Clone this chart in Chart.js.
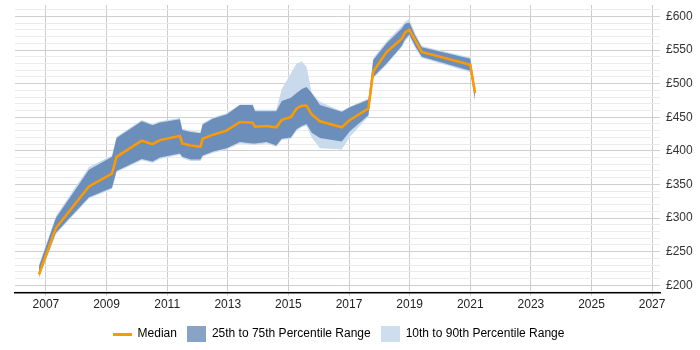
<!DOCTYPE html>
<html>
<head>
<meta charset="utf-8">
<script src="https://cdn.jsdelivr.net/npm/chart.js@4.4.1/dist/chart.umd.min.js"></script>
<style>
  html, body { margin: 0; padding: 0; background: #fff; }
  #wrap { width: 700px; height: 350px; }
</style>
</head>
<body>
<div id="wrap"><canvas id="c" width="700" height="350"></canvas></div>
<script>
// ---- data ----
const years = [2006.77, 2007.33, 2008.42, 2009.18, 2009.33, 2010.16, 2010.52, 2010.76, 2011.42, 2011.5,
  2011.78, 2012.1, 2012.17, 2012.52, 2012.96, 2013.4, 2013.82, 2013.9, 2014.28, 2014.6,
  2014.78, 2015.08, 2015.27, 2015.44, 2015.6, 2015.77, 2016.04, 2016.76, 2017.03, 2017.64,
  2017.8, 2018.24, 2018.74, 2018.85, 2018.99, 2019.18, 2019.4, 2021.0, 2021.16];
const median = [216, 285, 347, 366, 391, 415, 410, 416, 422, 411,
  408, 406, 418, 424, 430, 443, 442, 436, 437, 435,
  446, 450, 463, 467, 467, 454, 444, 435, 446, 463,
  518, 547, 567, 576, 580, 565, 547, 528, 486];
const p25 = [213, 278, 331, 345, 370, 388, 384, 390, 396, 391,
  387, 387, 393, 399, 404, 413, 411, 411, 413, 408,
  418, 420, 432, 437, 440, 427, 419, 414, 429, 453,
  510, 530, 556, 566, 573, 556, 540, 519, 476];
const p75 = [228, 300, 372, 391, 419, 444, 438, 442, 447, 431,
  428, 426, 439, 448, 454, 468, 468, 459, 459, 459,
  474, 479, 486, 492, 495, 486, 468, 458, 465, 476,
  535, 560, 582, 589, 591, 572, 554, 537, 492];
const p10 = [210, 276, 329, 343, 368, 386, 382, 388, 394, 389,
  385, 385, 391, 397, 402, 411, 409, 409, 411, 406,
  416, 418, 430, 435, 437, 420, 404, 402, 421, 451,
  508, 528, 554, 563, 570, 553, 538, 517, 472];
const p90 = [230, 303, 376, 393, 421, 446, 440, 444, 449, 433,
  430, 428, 441, 450, 456, 469, 469, 461, 461, 461,
  492, 515, 530, 533, 525, 486, 473, 459, 466, 478,
  538, 563, 586, 592, 596, 575, 556, 539, 494];
const xTickYears = [2007, 2009, 2011, 2013, 2015, 2017, 2019, 2021, 2023, 2025, 2027];
const yTickValues = [190, 200, 210, 220, 230, 240, 250, 260, 270, 280, 290, 300, 310, 320, 330, 340, 350,
  360, 370, 380, 390, 400, 410, 420, 430, 440, 450, 460, 470, 480, 490, 500, 510, 520, 530, 540,
  550, 560, 570, 580, 590, 600, 610];
const seriesNames = ['Median', '25th to 75th Percentile Range', '10th to 90th Percentile Range'];

const COL_MED = '#ff9900';
const COL_DARK = '#6b8fba';
const COL_LIGHT = '#c8daec';
const LEG_DARK = '#87a4c7';
const LEG_LIGHT = '#cfdeef';

const pts = arr => arr.map((v, i) => ({x: years[i], y: v}));

function swatch(w, h, color) {
  const c = document.createElement('canvas');
  c.width = w; c.height = h;
  const g = c.getContext('2d');
  g.fillStyle = color; g.fillRect(0, 0, w, h);
  return c;
}
const swMed = swatch(19, 3, COL_MED);
const swDark = swatch(19, 16, LEG_DARK);
const swLight = swatch(19, 16, LEG_LIGHT);

const legendShift = {
  id: 'legendShift',
  afterLayout(chart) {
    const l = chart.legend;
    if (!l) return;
    l.left -= 19; l.right -= 19;
    l.top += 4; l.bottom += 4;
  }
};

new Chart(document.getElementById('c'), {
  type: 'line',
  plugins: [legendShift],
  data: {
    datasets: [
      { label: seriesNames[0], data: pts(median), borderColor: COL_MED, borderWidth: 2.5, pointRadius: 0, fill: false, tension: 0 },
      { label: seriesNames[1], data: pts(p75), borderWidth: 0, borderColor: 'rgba(0,0,0,0)', backgroundColor: COL_DARK, pointRadius: 0, fill: 2, tension: 0 },
      { label: 'p25', data: pts(p25), borderWidth: 0, borderColor: 'rgba(0,0,0,0)', pointRadius: 0, fill: false, tension: 0 },
      { label: seriesNames[2], data: pts(p90), borderWidth: 0, borderColor: 'rgba(0,0,0,0)', backgroundColor: COL_LIGHT, pointRadius: 0, fill: 4, tension: 0 },
      { label: 'p10', data: pts(p10), borderWidth: 0, borderColor: 'rgba(0,0,0,0)', pointRadius: 0, fill: false, tension: 0 }
    ]
  },
  options: {
    responsive: false,
    animation: false,
    layout: { padding: { left: 15, top: 5, right: 0, bottom: 4 } },
    scales: {
      x: {
        type: 'linear',
        min: 2005.98,
        max: 2027.26,
        afterBuildTicks: s => { s.ticks = xTickYears.map(v => ({value: v})); },
        ticks: { callback: v => String(v), color: '#222', font: { family: 'Liberation Sans, Arial', size: 12 }, padding: 2, maxRotation: 0, autoSkip: false },
        grid: { color: '#cccccc', lineWidth: 1, drawTicks: true, tickLength: 3 },
        border: { display: true, color: '#000', width: 1.5 }
      },
      y: {
        position: 'right',
        min: 189,
        max: 617,
        afterBuildTicks: s => { s.ticks = yTickValues.map(v => ({value: v})); },
        afterFit: s => { s.width = 40; s.paddingTop = 0; s.paddingBottom = 0; },
        ticks: {
          callback: v => (v % 50 === 0 ? '£' + v : ''),
          color: '#333', font: { family: 'Liberation Sans, Arial', size: 12 }, padding: 6, autoSkip: false
        },
        grid: {
          drawTicks: false,
          color: ctx => (ctx.tick && ctx.tick.value % 50 === 0 ? '#cfcfcf' : '#ebebeb'),
          lineWidth: 1
        },
        border: { display: false }
      }
    },
    plugins: {
      tooltip: { enabled: false },
      legend: {
        position: 'bottom',
        labels: {
          usePointStyle: true,
          pointStyleWidth: 19,
          boxHeight: 12,
          padding: 10,
          color: '#222',
          font: { family: 'Liberation Sans, Arial', size: 12 },
          generateLabels: () => [
            { text: seriesNames[0], pointStyle: swMed, fillStyle: COL_MED, strokeStyle: COL_MED, lineWidth: 0, hidden: false, datasetIndex: 0 },
            { text: seriesNames[1], pointStyle: swDark, fillStyle: LEG_DARK, strokeStyle: LEG_DARK, lineWidth: 0, hidden: false, datasetIndex: 1 },
            { text: seriesNames[2], pointStyle: swLight, fillStyle: LEG_LIGHT, strokeStyle: LEG_LIGHT, lineWidth: 0, hidden: false, datasetIndex: 3 }
          ]
        }
      }
    }
  }
});
</script>
</body>
</html>
